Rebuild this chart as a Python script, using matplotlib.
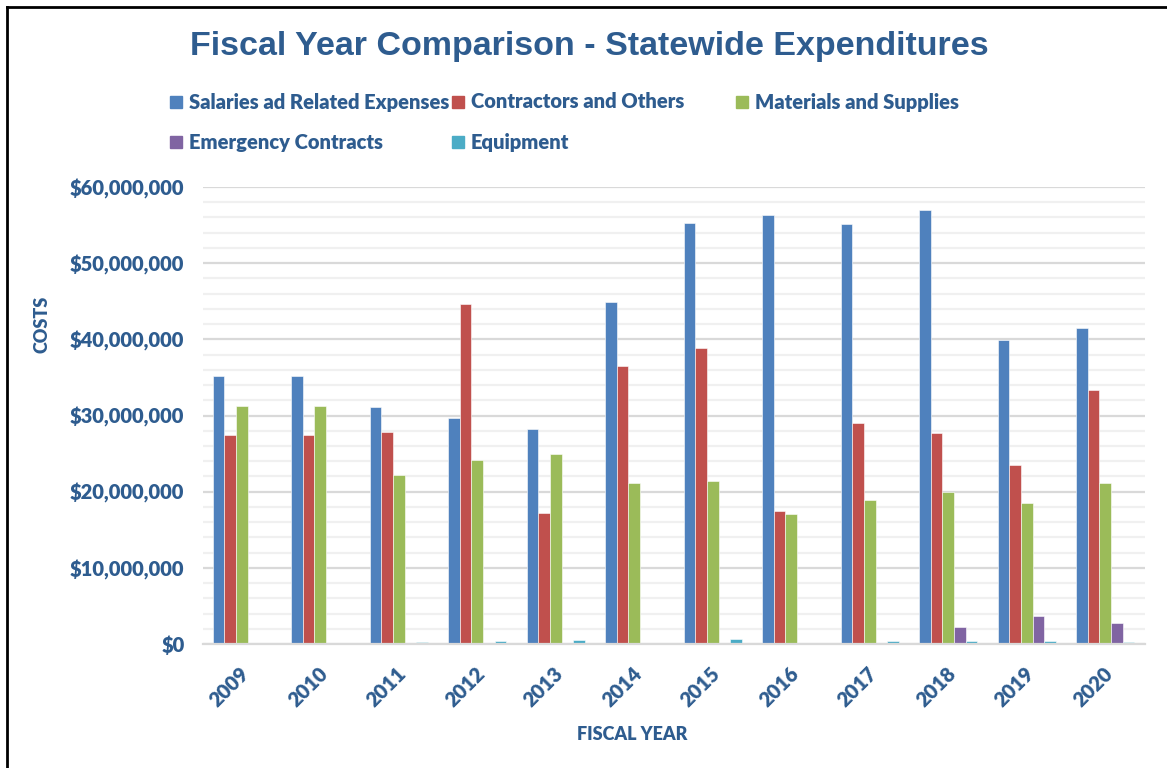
import numpy as np
import matplotlib.pyplot as plt
from matplotlib.lines import Line2D
from matplotlib.patches import Rectangle
from matplotlib.ticker import FuncFormatter, MultipleLocator

years = ["2009", "2010", "2011", "2012", "2013", "2014",
         "2015", "2016", "2017", "2018", "2019", "2020"]

# costs in millions of dollars
salaries = [35.2, 35.2, 31.1, 29.7, 28.2, 44.9, 55.3, 56.3, 55.2, 57.0, 39.9, 41.5]
contractors = [27.4, 27.4, 27.8, 44.7, 17.2, 36.5, 38.8, 17.4, 29.0, 27.7, 23.5, 33.3]
materials = [31.2, 31.2, 22.2, 24.2, 24.9, 21.2, 21.4, 17.1, 18.9, 19.9, 18.5, 21.1]
emergency = [0, 0, 0, 0, 0, 0, 0, 0, 0, 2.23, 3.72, 2.75]
equipment = [0.12, 0.12, 0.26, 0.35, 0.48, 0.17, 0.66, 0.15, 0.35, 0.40, 0.44, 0.30]

series = [
    ("Salaries ad Related Expenses", salaries, "#4F81BD"),
    ("Contractors and Others", contractors, "#C0504D"),
    ("Materials and Supplies", materials, "#9BBB59"),
    ("Emergency Contracts", emergency, "#8064A2"),
    ("Equipment", equipment, "#4BACC6"),
]

blue_txt = "#2E5C8F"
body_font = "Lato"

fig = plt.figure(figsize=(11.67, 7.68), dpi=100)
ax = fig.add_axes([202.5 / 1167, 1 - 644 / 768, 942 / 1167, 457 / 768])

x = np.arange(len(years))
bw = 0.1465
for i, (name, vals, col) in enumerate(series):
    ax.bar(x - 2 * bw + i * bw, np.array(vals) * 1e6, width=bw,
           color=col, edgecolor="white", linewidth=0.4, zorder=3)

ax.set_xlim(-0.5, len(years) - 0.5)
ax.set_ylim(0, 60e6)
ax.yaxis.set_major_locator(MultipleLocator(10e6))
ax.yaxis.set_minor_locator(MultipleLocator(2e6))
ax.yaxis.set_major_formatter(FuncFormatter(lambda v, p: "${:,.0f}".format(v)))
ax.grid(axis="y", which="major", color="#D9D9D9", linewidth=1.6, zorder=0)
ax.grid(axis="y", which="minor", color="#F0F0F0", linewidth=1.6, zorder=0)
ax.tick_params(axis="both", which="both", length=0)
ax.tick_params(axis="y", pad=13)
for s in ["top", "right", "left"]:
    ax.spines[s].set_visible(False)
ax.spines["bottom"].set_color("#D9D9D9")
ax.spines["bottom"].set_linewidth(1.6)
ax.spines["bottom"].set_zorder(4)

ax.set_xticks(x - 0.03)
ax.set_xticklabels(years, rotation=45, ha="right", rotation_mode="anchor")
ax.tick_params(axis="x", pad=14)
for lab in ax.get_xticklabels() + ax.get_yticklabels():
    lab.set_fontfamily(body_font)
    lab.set_fontweight("heavy")
    lab.set_fontsize(14.5)
    lab.set_color(blue_txt)

fig.text(42 / 1167, 1 - 324 / 768, "COSTS", rotation=90, ha="center", va="center",
         fontfamily=body_font, fontweight="heavy", fontsize=13, color=blue_txt)
fig.text(632 / 1167, 1 - 734 / 768, "FISCAL YEAR", ha="center", va="center",
         fontfamily=body_font, fontweight="heavy", fontsize=13, color=blue_txt)

fig.text(589 / 1167, 1 - 46 / 768, "Fiscal Year Comparison - Statewide Expenditures",
         ha="center", va="center", fontfamily="Liberation Sans", fontweight="bold",
         fontsize=24.5, color=blue_txt)

# legend laid out in fixed columns
legend_pos = [(176, 102), (458, 102), (742, 102), (176, 142), (458, 142)]
for (name, vals, col), (lx, ly) in zip(series, legend_pos):
    fig.add_artist(Rectangle(((lx - 6) / 1167, 1 - (ly + 6) / 768), 12 / 1167, 12 / 768,
                             transform=fig.transFigure, color=col))
    fig.text((lx + 13) / 1167, 1 - ly / 768, name, ha="left", va="center",
             fontfamily=body_font, fontweight="heavy", fontsize=14.5, color=blue_txt)

# frame around the chart area
fig.add_artist(Line2D([7 / 1167, 1], [1 - 7 / 768, 1 - 7 / 768], color="black",
                      linewidth=2, transform=fig.transFigure))
fig.add_artist(Line2D([7 / 1167, 7 / 1167], [0, 1 - 7 / 768], color="black",
                      linewidth=2, transform=fig.transFigure))

fig.savefig("out.png", dpi=100)
